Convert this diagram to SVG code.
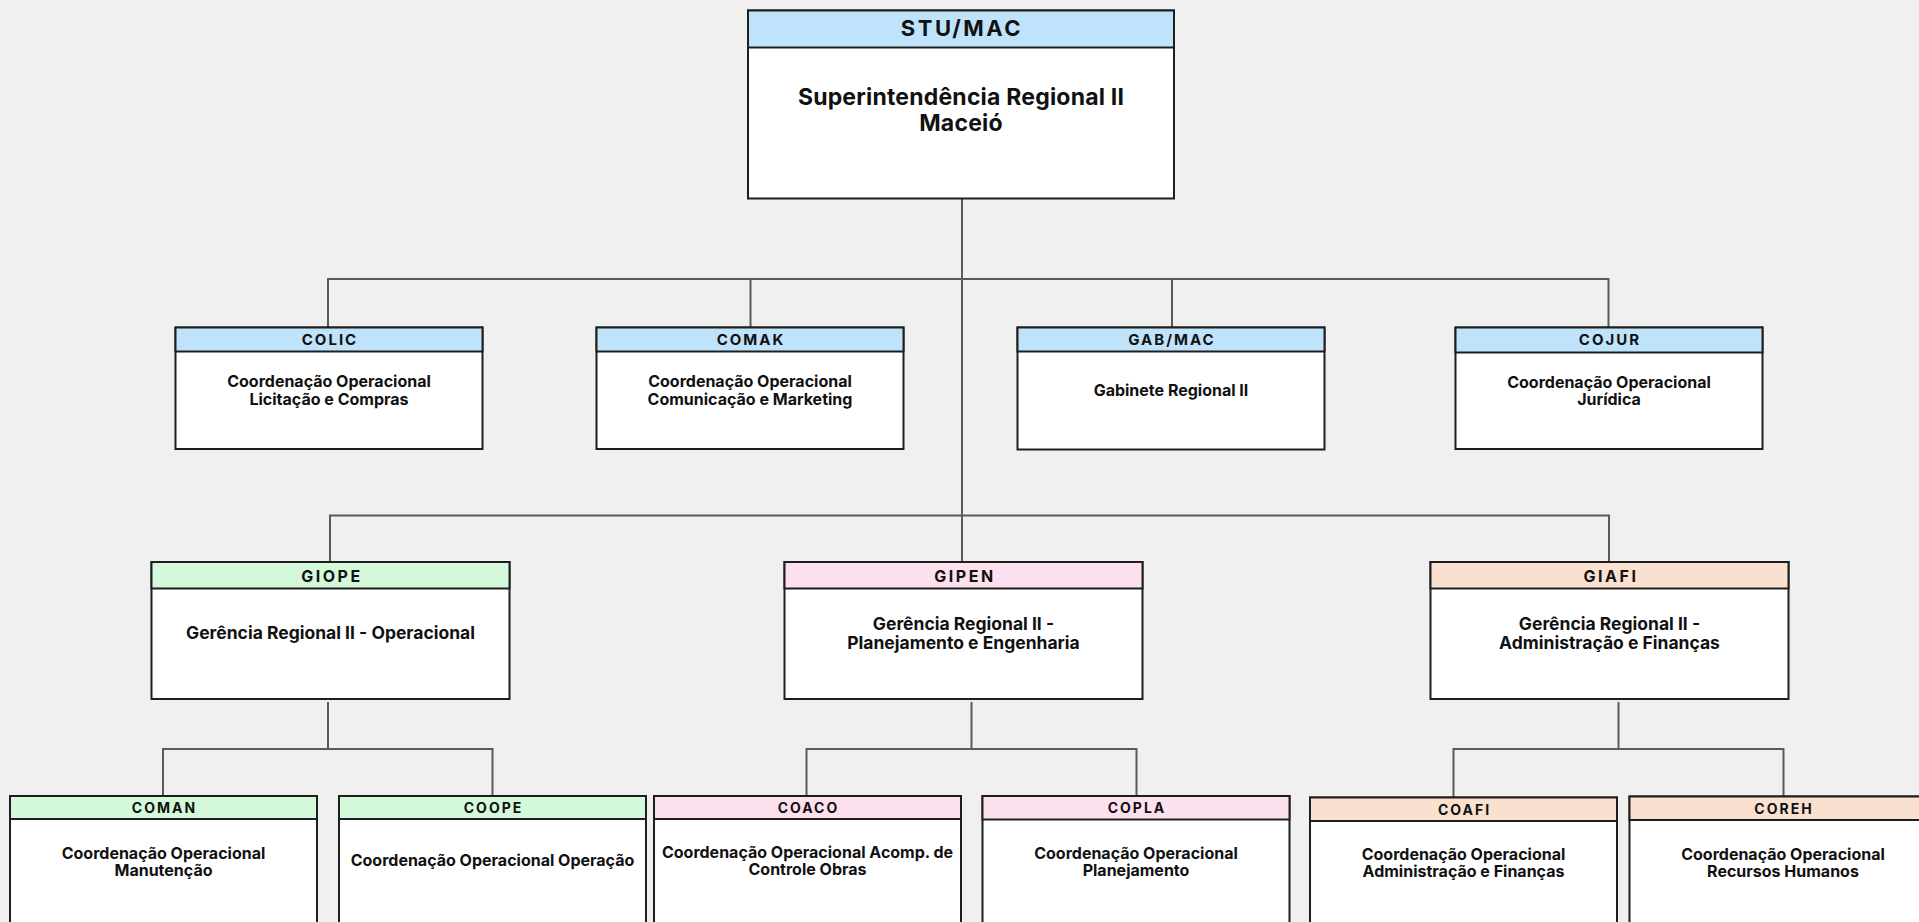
<svg xmlns="http://www.w3.org/2000/svg" width="1919" height="922" viewBox="0 0 1919 922">
<style>
.bg{fill:#f0f0f0}
.box{fill:#ffffff;stroke:#1e1e1e;stroke-width:2}
.hd{stroke:#1e1e1e;stroke-width:2}
.blue{fill:#bee3fb}
.green{fill:#d4f9da}
.pink{fill:#fde0ed}
.peach{fill:#f9e0cf}
.conn{fill:none;stroke:#5a5a5a;stroke-width:2}
text{font-family:Inter,"Open Sans","Liberation Sans",sans-serif;font-weight:700;fill:#111;text-anchor:middle}
.t0{font-size:22px;letter-spacing:2.5px}
.b0{font-size:23px;letter-spacing:0.2px}
.t1{font-size:15px;letter-spacing:2px}
.b1{font-size:16px}
.t2{font-size:16px;letter-spacing:2.5px}
.b2{font-size:17.5px}
.t3{font-size:14px;letter-spacing:2px}
.b3{font-size:16px}
</style>
<rect class="bg" x="0" y="0" width="1919" height="922"/>

<g id="connectors">
<path class="conn" d="M962 198.5 V562"/>
<path class="conn" d="M328 327.5 V279 H1608.5 V327.5"/>
<path class="conn" d="M750.5 279 V327.5"/>
<path class="conn" d="M1172 279 V327.5"/>
<path class="conn" d="M330 562 V515.5 H1609 V562"/>
<path class="conn" d="M328 702 V749"/>
<path class="conn" d="M163 796 V749 H492.5 V796"/>
<path class="conn" d="M971.5 702 V749"/>
<path class="conn" d="M806.5 796 V749 H1136.5 V796"/>
<path class="conn" d="M1618.5 702 V749"/>
<path class="conn" d="M1453.5 797.5 V749 H1783.5 V796.5"/>
</g>

<g id="STU-MAC">
<rect class="box" x="748" y="10.5" width="426" height="188"/>
<rect class="blue hd" x="748" y="10.5" width="426" height="37"/>
<text class="t0" x="962" y="36">STU/MAC</text>
<text class="b0"><tspan x="961" y="105">Superintendência Regional II</tspan><tspan x="961" y="130.5">Maceió</tspan></text>
</g>

<g id="COLIC">
<rect class="box" x="175.5" y="327.5" width="307" height="121.5"/>
<rect class="blue hd" x="175.5" y="327.5" width="307" height="24"/>
<text class="t1" x="330" y="345">COLIC</text>
<text class="b1"><tspan x="329" y="387">Coordenação Operacional</tspan><tspan x="329" y="404.5">Licitação e Compras</tspan></text>
</g>

<g id="COMAK">
<rect class="box" x="596.5" y="327.5" width="307" height="121.5"/>
<rect class="blue hd" x="596.5" y="327.5" width="307" height="24"/>
<text class="t1" x="751" y="345">COMAK</text>
<text class="b1"><tspan x="750" y="387">Coordenação Operacional</tspan><tspan x="750" y="404.5">Comunicação e Marketing</tspan></text>
</g>

<g id="GAB-MAC">
<rect class="box" x="1017.5" y="327.5" width="307" height="122"/>
<rect class="blue hd" x="1017.5" y="327.5" width="307" height="24"/>
<text class="t1" x="1172" y="345">GAB/MAC</text>
<text class="b1" x="1171" y="396">Gabinete Regional II</text>
</g>

<g id="COJUR">
<rect class="box" x="1455.5" y="327.5" width="307" height="121.5"/>
<rect class="blue hd" x="1455.5" y="327.5" width="307" height="25"/>
<text class="t1" x="1610" y="344.5">COJUR</text>
<text class="b1"><tspan x="1609" y="388">Coordenação Operacional</tspan><tspan x="1609" y="405">Jurídica</tspan></text>
</g>

<g id="GIOPE">
<rect class="box" x="151.5" y="562" width="358" height="137"/>
<rect class="green hd" x="151.5" y="562" width="358" height="26.5"/>
<text class="t2" x="332" y="582">GIOPE</text>
<text class="b2" x="330.5" y="639">Gerência Regional II - Operacional</text>
</g>

<g id="GIPEN">
<rect class="box" x="784.5" y="562" width="358" height="137"/>
<rect class="pink hd" x="784.5" y="562" width="358" height="26.5"/>
<text class="t2" x="965" y="582">GIPEN</text>
<text class="b2"><tspan x="963.5" y="630">Gerência Regional II -</tspan><tspan x="963.5" y="649">Planejamento e Engenharia</tspan></text>
</g>

<g id="GIAFI">
<rect class="box" x="1430.5" y="562" width="358" height="137"/>
<rect class="peach hd" x="1430.5" y="562" width="358" height="26.5"/>
<text class="t2" x="1611" y="582">GIAFI</text>
<text class="b2"><tspan x="1609.5" y="629.5">Gerência Regional II -</tspan><tspan x="1609.5" y="648.5">Administração e Finanças</tspan></text>
</g>

<g id="COMAN">
<rect class="box" x="10" y="796" width="307" height="140"/>
<rect class="green hd" x="10" y="796" width="307" height="23"/>
<text class="t3" x="164.5" y="813">COMAN</text>
<text class="b3"><tspan x="163.5" y="858.5">Coordenação Operacional</tspan><tspan x="163.5" y="875.5">Manutenção</tspan></text>
</g>

<g id="COOPE">
<rect class="box" x="339" y="796" width="307" height="140"/>
<rect class="green hd" x="339" y="796" width="307" height="23"/>
<text class="t3" x="493.5" y="813">COOPE</text>
<text class="b3" x="492.5" y="866">Coordenação Operacional Operação</text>
</g>

<g id="COACO">
<rect class="box" x="654" y="796" width="307" height="140"/>
<rect class="pink hd" x="654" y="796" width="307" height="23"/>
<text class="t3" x="808.5" y="813">COACO</text>
<text class="b3"><tspan x="807.5" y="858">Coordenação Operacional Acomp. de</tspan><tspan x="807.5" y="875">Controle Obras</tspan></text>
</g>

<g id="COPLA">
<rect class="box" x="982.5" y="796" width="307" height="140"/>
<rect class="pink hd" x="982.5" y="796" width="307" height="23.5"/>
<text class="t3" x="1137" y="813">COPLA</text>
<text class="b3"><tspan x="1136" y="858.5">Coordenação Operacional</tspan><tspan x="1136" y="875.5">Planejamento</tspan></text>
</g>

<g id="COAFI">
<rect class="box" x="1310" y="797.5" width="307" height="140"/>
<rect class="peach hd" x="1310" y="797.5" width="307" height="23.5"/>
<text class="t3" x="1464.5" y="815">COAFI</text>
<text class="b3"><tspan x="1463.5" y="859.5">Coordenação Operacional</tspan><tspan x="1463.5" y="876.5">Administração e Finanças</tspan></text>
</g>

<g id="COREH">
<rect class="box" x="1629.5" y="796.5" width="307" height="140"/>
<rect class="peach hd" x="1629.5" y="796.5" width="307" height="23.5"/>
<text class="t3" x="1784" y="814">COREH</text>
<text class="b3"><tspan x="1783" y="859.5">Coordenação Operacional</tspan><tspan x="1783" y="876.5">Recursos Humanos</tspan></text>
</g>
</svg>
